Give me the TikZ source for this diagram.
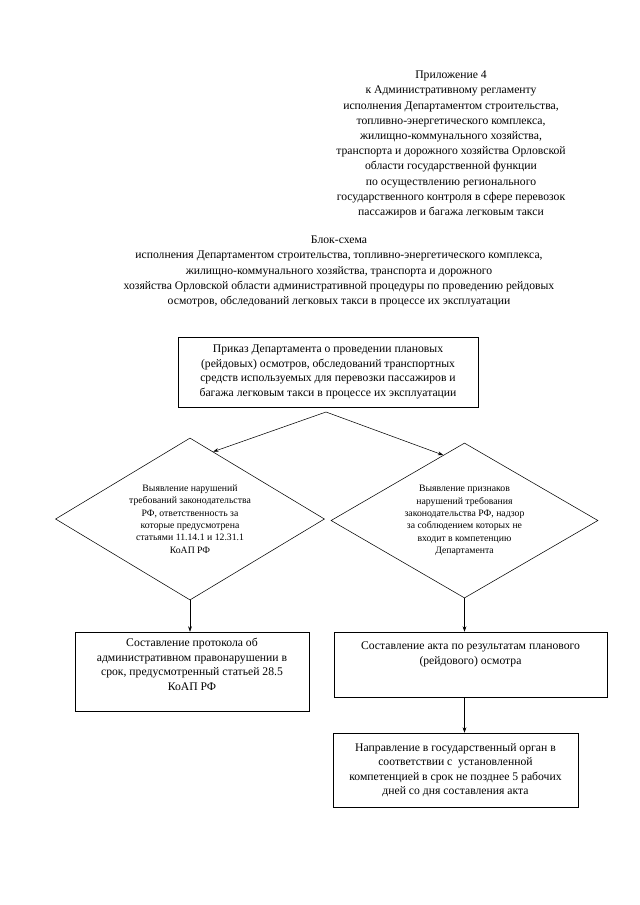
\documentclass[tikz,border=0pt]{standalone}
\usepackage{fontspec}
\setmainfont{Liberation Serif}
\usetikzlibrary{shapes.geometric,arrows.meta}
\begin{document}
\begin{tikzpicture}[x=0.328125mm,y=-0.328125mm,
  box/.style={draw, line width=0.5pt, inner sep=0pt},
  txt/.style={align=center, inner sep=0pt, font=\fontsize{10.9}{13.6}\selectfont},
  hdr/.style={align=center, inner sep=0pt, font=\fontsize{10.9}{14.2}\selectfont},
  dia/.style={draw, line width=0.5pt, shape=diamond, inner sep=0pt, align=center, font=\fontsize{9.1}{11.6}\selectfont},
  arr/.style={-{Stealth[length=5pt,width=3.5pt]}, line width=0.5pt}]
\useasboundingbox (0,0) rectangle (640,905);

\node[hdr] (app) at (451,144.5) {Приложение 4\\к Административному регламенту\\исполнения Департаментом строительства,\\топливно-энергетического комплекса,\\жилищно-коммунального хозяйства,\\транспорта и дорожного хозяйства Орловской\\области государственной функции\\по осуществлению регионального\\государственного контроля в сфере перевозок\\пассажиров и багажа легковым такси};

\node[hdr] (title) at (339,271.5) {Блок-схема\\исполнения Департаментом строительства, топливно-энергетического комплекса,\\жилищно-коммунального хозяйства, транспорта и дорожного\\хозяйства Орловской области административной процедуры по проведению рейдовых\\осмотров, обследований легковых такси в процессе их эксплуатации};

\node[box, txt, minimum width=98.44mm, minimum height=22.97mm] (order) at (328,372) {Приказ Департамента о проведении плановых\\(рейдовых) осмотров, обследований транспортных\\средств используемых для перевозки пассажиров и\\багажа легковым такси в процессе их эксплуатации};

\node[dia, shape aspect=1.66, minimum width=88.27mm, minimum height=53.16mm] (d1) at (190,519) {Выявление нарушений\\требований законодательства\\РФ, ответственность за\\которые предусмотрена\\статьями 11.14.1 и 12.31.1\\КоАП РФ};

\node[dia, shape aspect=1.72, minimum width=87.61mm, minimum height=50.86mm] (d2) at (464.5,520.5) {Выявление признаков\\нарушений требования\\законодательства РФ, надзор\\за соблюдением которых не\\входит в компетенцию\\Департамента};

\node[box, minimum width=76.78mm, minimum height=25.92mm] (b1) at (192,671.5) {};
\node[txt] (b1t) at (192,664.5) {Составление протокола об\\административном правонарушении в\\срок, предусмотренный статьей 28.5\\КоАП РФ};

\node[box, minimum width=89.58mm, minimum height=21.33mm] (b2) at (470.5,664.5) {};
\node[txt] (b2t) at (470.5,654.5) {Составление акта по результатам планового\\(рейдового) осмотра};

\node[box, txt, minimum width=80.39mm, minimum height=24.28mm] (b3) at (455.5,770) {Направление в государственный орган в\\соответствии с \ установленной\\компетенцией в срок не позднее 5 рабочих\\дней со дня составления акта};

\coordinate (split) at (326,412);
\draw[arr] (split) -- (d1.71);
\draw[arr] (split) -- (d2.108);
\draw[arr] (d1.south) -- (d1.south |- b1.north);
\draw[arr] (d2.south) -- (d2.south |- b2.north);
\draw[arr] (d2.south |- b2.south) -- (d2.south |- b3.north);
\end{tikzpicture}
\end{document}
